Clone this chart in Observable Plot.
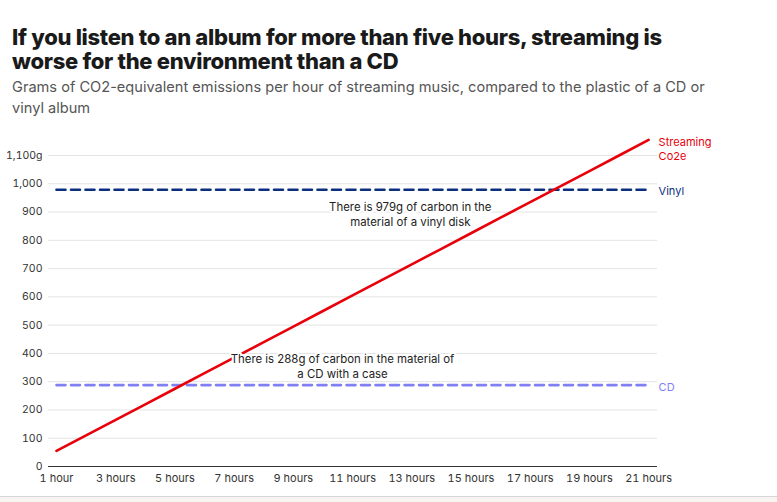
<!DOCTYPE html>
<html>
<head>
<meta charset="utf-8">
<script src="https://cdn.jsdelivr.net/npm/d3@7"></script>
<script src="https://cdn.jsdelivr.net/npm/@observablehq/plot@0.6"></script>
<style>
  html, body { margin: 0; padding: 0; background: #fff; }
  body { width: 777px; height: 502px; position: relative; overflow: hidden; font-family: Inter, "Noto Sans", sans-serif; }
  #title { position: absolute; left: 12px; top: 25px; width: 665px; font-size: 22px; font-weight: 800; line-height: 24px; color: #1a1a1a; letter-spacing: -0.3px; }
  #subtitle { position: absolute; left: 12px; top: 77px; width: 700px; font-size: 14.6px; line-height: 21px; color: #555; letter-spacing: 0px; }
  #chart { position: absolute; left: 0; top: 120px; }
  #footer { position: absolute; left: 0; top: 496px; width: 777px; height: 6px; background: #f7f4f1; border-top: 1px solid #d6d6d6; }
</style>
</head>
<body>
<div id="title">If you listen to an album for more than five hours, streaming is worse for the environment than a CD</div>
<div id="subtitle">Grams of CO2-equivalent emissions per hour of streaming music, compared to the plastic of a CD or vinyl album</div>
<div id="chart"></div>
<div id="footer"></div>
<script>
// Data
const hours = [1,2,3,4,5,6,7,8,9,10,11,12,13,14,15,16,17,18,19,20,21];
const streamingGrams = [55,110,165,220,275,330,385,440,495,550,605,660,715,770,825,880,935,990,1045,1100,1155];
const vinylGrams = 979;
const cdGrams = 288;
const xTicks = [1,3,5,7,9,11,13,15,17,19,21];
const yTicks = [0,100,200,300,400,500,600,700,800,900,1000,1100];

const streaming = hours.map((h, i) => ({h, g: streamingGrams[i]}));
const baselineRows = (v) => [{h: hours[0], g: v}, {h: hours[hours.length - 1], g: v}];

const red = "#e8000b";
const navy = "#0b2f80";
const cdBlue = "#8080f2";
const xFmt = d => d === 1 ? "1 hour" : `${d} hours`;
const yFmt = d => d === 1100 ? "1,100g" : d3.format(",")(d);

const chart = Plot.plot({
  width: 777,
  height: 370,
  marginLeft: 48,
  marginRight: 120,
  marginTop: 35,
  marginBottom: 24,
  style: {fontFamily: "Inter, 'Noto Sans', sans-serif", fontSize: "11px", color: "#333", background: "transparent"},
  x: {domain: [0.73, 21.3], label: null},
  y: {domain: [0, 1100], label: null},
  marks: [
    Plot.gridY(yTicks.filter(d => d > 0), {stroke: "#e3e3e3", strokeOpacity: 1, strokeWidth: 1}),
    Plot.ruleY([0], {stroke: "#333", strokeWidth: 1}),
    Plot.axisX({ticks: xTicks, tickSize: 0, tickPadding: 8, tickFormat: xFmt, fill: "#333", label: null}),
    Plot.axisY({ticks: yTicks, tickSize: 0, tickPadding: 6, tickFormat: yFmt, fill: "#333", fontSize: 10.5, label: null}),
    Plot.line(baselineRows(vinylGrams), {x: "h", y: "g", stroke: navy, strokeWidth: 2.6, strokeDasharray: "9,5.5"}),
    Plot.line(baselineRows(cdGrams), {x: "h", y: "g", stroke: cdBlue, strokeWidth: 2.6, strokeDasharray: "9,5.5"}),
    Plot.line(streaming, {x: "h", y: "g", stroke: red, strokeWidth: 2.6}),
    Plot.text([{h: 12.95, g: 893}], {x: "h", y: "g", text: () => "There is 979g of carbon in the\nmaterial of a vinyl disk", fill: "#222", stroke: "white", strokeWidth: 4, lineHeight: 1.28, fontSize: 11.4}),
    Plot.text([{h: 10.66, g: 357}], {x: "h", y: "g", text: () => "There is 288g of carbon in the material of\na CD with a case", fill: "#222", stroke: "white", strokeWidth: 4, lineHeight: 1.3, fontSize: 11.4}),
    Plot.text([{h: 21, g: 1155}], {x: "h", y: "g", text: () => "Streaming\nCo2e", fill: red, textAnchor: "start", lineAnchor: "top", dx: 10, dy: -3, lineHeight: 1.2, fontSize: 11}),
    Plot.text([{h: 21, g: vinylGrams}], {x: "h", y: "g", text: () => "Vinyl", fill: navy, textAnchor: "start", dx: 10, dy: 2, fontSize: 11}),
    Plot.text([{h: 21, g: cdGrams}], {x: "h", y: "g", text: () => "CD", fill: cdBlue, textAnchor: "start", dx: 10, dy: 2, fontSize: 11})
  ]
});
document.getElementById("chart").appendChild(chart);
</script>
</body>
</html>
